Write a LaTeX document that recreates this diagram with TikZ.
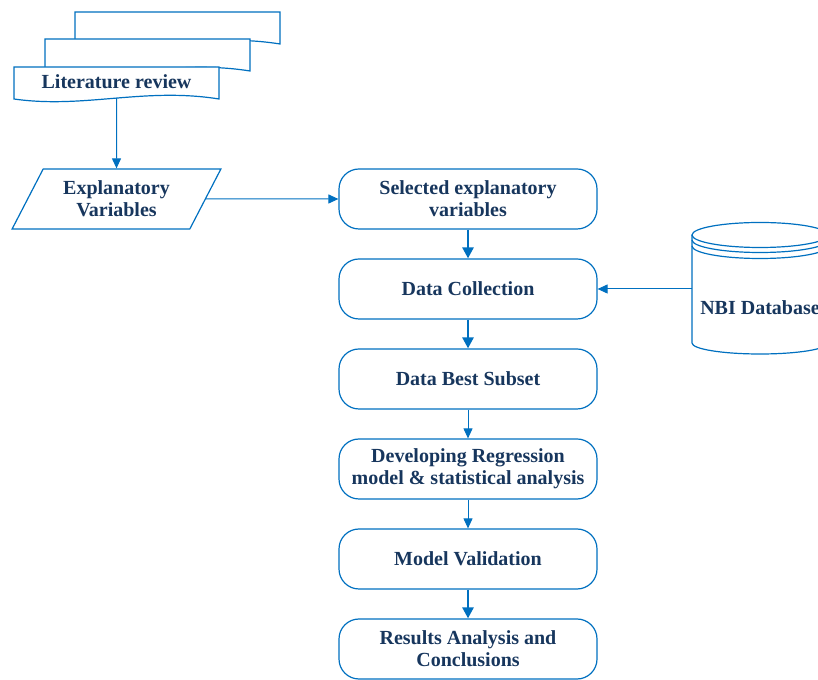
\documentclass[tikz,border=0pt]{standalone}
\usepackage{fontspec}
\setmainfont{Liberation Serif}
\usetikzlibrary{arrows.meta,positioning,shapes.geometric}
\definecolor{flowblue}{RGB}{0,112,192}
\definecolor{flowtext}{RGB}{23,54,93}

\begin{document}
\begin{tikzpicture}[
  x=1pt, y=1pt,
  node distance=28.8pt,
  every node/.style={font=\fontsize{20}{22}\selectfont\bfseries, text=flowtext},
  box/.style={draw=flowblue, line width=1.2pt, rounded corners=20pt, align=center, minimum height=60pt, minimum width=258pt, inner sep=0pt},
  io/.style={draw=flowblue, line width=1.2pt, trapezium, trapezium left angle=58, trapezium right angle=122, trapezium stretches=true, minimum width=209pt, minimum height=60pt, align=center, inner sep=0pt},
  doc/.style={draw=flowblue, line width=1.2pt, fill=white},
  arr/.style={draw=flowblue, line width=1pt, -{Triangle[length=10pt, width=9pt]}},
  thickarr/.style={draw=flowblue, line width=2.6pt, -{Triangle[length=11pt, width=11pt]}}
]
\useasboundingbox (0,0) rectangle (818,679);

% stacked documents
\draw[doc] (75,667) -- (280,667) -- (280,635) .. controls (205,647) and (145,625) .. (75,635) -- cycle;
\draw[doc] (45,640) -- (250,640) -- (250,608) .. controls (175,620) and (115,598) .. (45,608) -- cycle;
\draw[doc] (14,612) -- (219,612) -- (219,580) .. controls (144,592) and (84,570) .. (14,580) -- cycle;
\node[minimum width=205pt, minimum height=32pt, inner sep=0pt] (lit) at (116.5,597) {Literature review};

\node[io] (expl) at (116.5,480) {Explanatory\\Variables};

% main column
\node[box] (sel) at (468,480) {Selected explanatory\\variables};
\node[box, below=of sel] (dc) {Data Collection};
\node[box, below=of dc] (bs) {Data Best Subset};
\node[box, below=of bs] (reg) {Developing Regression\\model \& statistical analysis};
\node[box, below=of reg] (val) {Model Validation};
\node[box, below=of val] (res) {Results Analysis and\\Conclusions};

% database
\draw[flowblue, line width=1.2pt, fill=white] (692,444) -- (692,336) arc[start angle=180, end angle=360, x radius=68, y radius=11] -- (828,444);
\draw[flowblue, line width=1.2pt] (760,444) ellipse[x radius=68, y radius=12.5];
\draw[flowblue, line width=1.2pt] (692,439) arc[start angle=180, end angle=360, x radius=68, y radius=12.5];
\draw[flowblue, line width=1.2pt] (692,433) arc[start angle=180, end angle=360, x radius=68, y radius=12.5];
\node[minimum width=136pt, inner sep=0pt] (nbi) at (760,371) {NBI Database};

\draw[arr] (lit.south) -- (expl.north);
\draw[arr] (expl.east) -- (sel.west);
\draw[arr] (nbi.west |- dc) -- (dc);
\draw[thickarr] (sel) -- (dc);
\draw[thickarr] (dc) -- (bs);
\draw[arr] (bs) -- (reg);
\draw[arr] (reg) -- (val);
\draw[thickarr] (val) -- (res);
\end{tikzpicture}
\end{document}
